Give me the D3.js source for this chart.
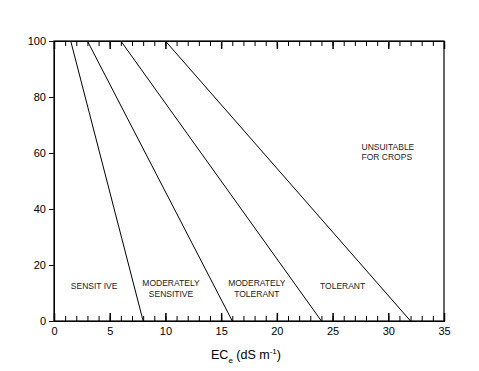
<!DOCTYPE html>
<html>
<head>
<meta charset="utf-8">
<style>
body { margin: 0; background: #fff; }
svg { font-family: "Liberation Sans", Arial, sans-serif; }
.axis .domain { stroke: #000; }
.axis line { stroke: #000; }
.axis text { font-size: 11px; fill: #000; }
</style>
</head>
<body>
<svg width="479" height="371"></svg>
<script src="https://d3js.org/d3.v7.min.js"></script>
<script>
// crop tolerance boundaries: EC at 100% yield and at 0% yield
var classes = ["Sensitive", "Moderately sensitive", "Moderately tolerant", "Tolerant"];
var ecAt100 = [1.5, 3, 6, 10];
var ecAt0 = [8, 16, 24, 32];

// zone labels (x in dS/m, y in % yield, lines)
var zoneLines = [["SENSIT IVE"], ["MODERATELY", "SENSITIVE"], ["MODERATELY", "TOLERANT"], ["TOLERANT"]];
var zoneX = [3.6, 10.5, 18.2, 25.9];
var zoneY = [11.5, 12.5, 12.5, 11.5];
var unsuitLines = ["UNSUITABLE", "FOR CROPS"];
var unsuitX = 27.6, unsuitY = 61;

var xTicks = [0, 5, 10, 15, 20, 25, 30, 35];
var yTicks = [0, 20, 40, 60, 80, 100];

var svg = d3.select("svg"),
    margin = {top: 41, right: 35, bottom: 50, left: 54},
    width = 479 - margin.left - margin.right,
    height = 371 - margin.top - margin.bottom,
    g = svg.append("g").attr("transform", "translate(" + margin.left + "," + margin.top + ")");

var x = d3.scaleLinear().domain([0, 35]).range([0, width]);
var y = d3.scaleLinear().domain([0, 100]).range([height, 0]);

// minor ticks top & bottom (inward)
var minor = d3.range(0, 36, 1);
g.append("g").attr("class", "axis")
    .attr("transform", "translate(0," + height + ")")
    .call(d3.axisTop(x).tickValues(minor).tickSize(5).tickFormat(""));
g.append("g").attr("class", "axis")
    .call(d3.axisBottom(x).tickValues(minor).tickSize(5).tickFormat(""));
// major ticks
g.append("g").attr("class", "axis")
    .attr("transform", "translate(0," + height + ")")
    .call(d3.axisTop(x).tickValues(xTicks).tickSize(8).tickFormat(""))
    .selectAll("line").attr("stroke-width", 1.5);
g.append("g").attr("class", "axis")
    .call(d3.axisBottom(x).tickValues(xTicks).tickSize(8).tickFormat(""))
    .selectAll("line").attr("stroke-width", 1.5);

// bottom labels
g.append("g").attr("class", "axis")
    .attr("transform", "translate(0," + height + ")")
    .call(d3.axisBottom(x).tickValues(xTicks).tickSize(0).tickPadding(6))
    .call(function(a) { a.select(".domain").remove(); });

// left axis
g.append("g").attr("class", "axis")
    .call(d3.axisLeft(y).tickValues(yTicks).tickSize(5).tickPadding(3).tickSizeOuter(0));

// frame
g.append("rect")
    .attr("width", width).attr("height", height)
    .attr("fill", "none").attr("stroke", "#000").attr("stroke-width", 1.2);

// boundary lines
g.selectAll(".bound")
  .data(classes)
  .enter().append("line")
    .attr("class", "bound")
    .attr("x1", function(d, i) { return x(ecAt100[i]); })
    .attr("y1", y(100))
    .attr("x2", function(d, i) { return x(ecAt0[i]); })
    .attr("y2", y(0))
    .attr("stroke", "#000")
    .attr("stroke-width", 1);

// zone labels
var zl = g.selectAll(".zone")
  .data(zoneLines)
  .enter().append("text")
    .attr("class", "zone")
    .attr("font-size", 8.5)
    .attr("text-anchor", "middle")
    .attr("fill", "#222")
    .attr("x", function(d, i) { return x(zoneX[i]); })
    .attr("y", function(d, i) { return y(zoneY[i]); });
zl.selectAll("tspan")
  .data(function(d) { return d; })
  .enter().append("tspan")
    .attr("x", function() { return this.parentNode.getAttribute("x"); })
    .attr("dy", function(d, i) { return i === 0 ? 0 : 11; })
    .text(function(d) { return d; });

g.append("text")
    .attr("font-size", 8.5)
    .attr("fill", "#222")
    .attr("x", x(unsuitX))
    .attr("y", y(unsuitY))
  .selectAll("tspan")
  .data(unsuitLines)
  .enter().append("tspan")
    .attr("x", x(unsuitX))
    .attr("dy", function(d, i) { return i === 0 ? 0 : 10; })
    .text(function(d) { return d; });

// x axis title
var t = svg.append("text")
    .attr("x", margin.left + width / 2 - 3)
    .attr("y", 359)
    .attr("text-anchor", "middle")
    .attr("font-size", 12.5)
    .attr("fill", "#000");
t.append("tspan").text("EC");
t.append("tspan").attr("font-size", 8).attr("dy", 4).text("e");
t.append("tspan").attr("dy", -4).text(" (dS m");
t.append("tspan").attr("font-size", 8).attr("dy", -5).text("-1");
t.append("tspan").attr("dy", 5).text(")");
</script>
</body>
</html>
